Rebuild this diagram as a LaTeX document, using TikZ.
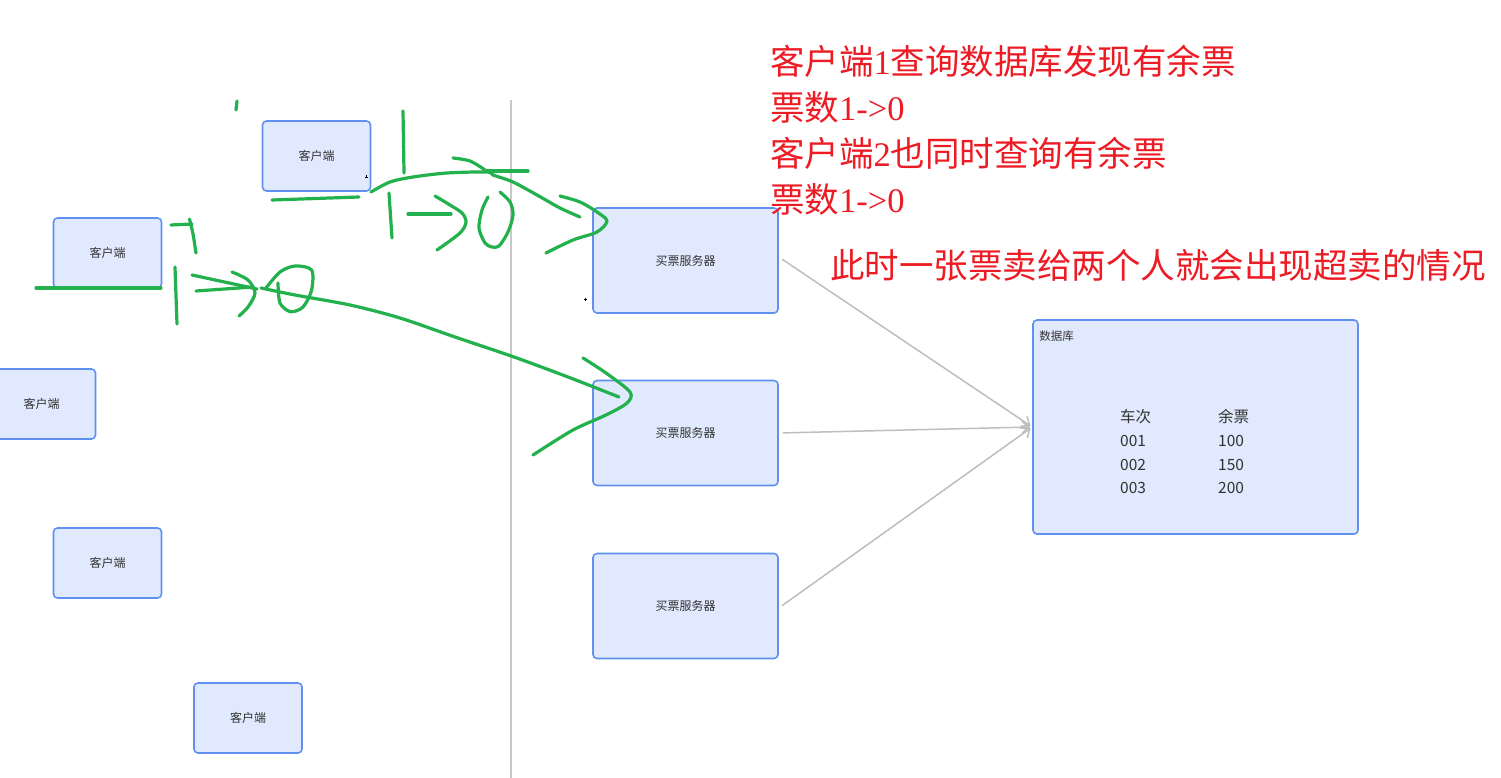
\documentclass[tikz,border=0pt]{standalone}
\usepackage{fontspec}
\setmainfont{Noto Sans CJK SC}
\newfontfamily\cjk{Noto Sans CJK SC}
\newfontfamily\latserif{Liberation Serif}
\usetikzlibrary{arrows.meta}
\definecolor{boxblue}{RGB}{96,145,240}
\definecolor{boxfill}{RGB}{224,233,253}
\definecolor{txtgray}{RGB}{51,51,51}
\definecolor{inkred}{RGB}{237,28,36}
\definecolor{inkgreen}{RGB}{34,177,76}
\definecolor{arrgray}{RGB}{190,190,190}
\definecolor{divgray}{RGB}{200,200,200}
\newcommand\lt[1]{{\latserif #1}}
\begin{document}
\begin{tikzpicture}[x=1pt,y=-1pt,
  box/.style={draw=boxblue, fill=boxfill, line width=1.6pt, rounded corners=4pt,
    inner sep=0pt, font=\cjk\fontsize{12}{14}\selectfont, text=txtgray},
  client/.style={box, minimum width=108pt, minimum height=70pt},
  server/.style={box, minimum width=185pt, minimum height=105pt},
  dbtxt/.style={anchor=west, inner sep=0pt, font=\cjk\fontsize{15.5}{18}\selectfont, text=txtgray},
  redtxt/.style={anchor=base west, inner sep=0pt, text=inkred, font=\cjk\fontsize{34.5}{40}\selectfont},
  ink/.style={draw=inkgreen, line width=3.2pt, line cap=round, line join=round},
  garrow/.style={draw=arrgray, line width=1.5pt, -{Straight Barb[length=7pt,width=12pt]}},
  speck/.style={draw=black, line width=0.6pt}]
\useasboundingbox (0,0) rectangle (1501,778);
\clip (0,0) rectangle (1501,778);
\fill[white] (0,0) rectangle (1501,778);

% divider
\coordinate (vtop) at (511,100);
\coordinate (vbot) at (511,778);
\draw[divgray, line width=2pt] (vtop) -- (vbot);

% clients
\node[client] (c1) at (316.5,156) {客户端};
\node[client] (c2) at (107.5,253) {客户端};
\node[client] (c3) at (41.5,404) {客户端};
\node[client] (c4) at (107.5,563) {客户端};
\node[client] (c5) at (248,718) {客户端};

% servers
\node[server] (s1) at (685.5,260.5) {买票服务器};
\node[server] (s2) at (685.5,433) {买票服务器};
\node[server] (s3) at (685.5,606) {买票服务器};

% database
\node[box, minimum width=325pt, minimum height=214pt] (db) at (1195.5,427) {};
\node[anchor=north west, inner sep=0pt, font=\cjk\fontsize{11.5}{13}\selectfont, text=txtgray] (dblabel) at ([xshift=7pt,yshift=-11pt]db.north west) {数据库};
\node[dbtxt] (h1) at (1120,417) {车次};
\node[dbtxt] (h2) at (1218,417) {余票};
\node[dbtxt] (a1) at (1120,441) {001};
\node[dbtxt] (b1) at (1218,441) {100};
\node[dbtxt] (a2) at (1120,464.5) {002};
\node[dbtxt] (b2) at (1218,464.5) {150};
\node[dbtxt] (a3) at (1120,488) {003};
\node[dbtxt] (b3) at (1218,488) {200};

% gray connectors
\draw[garrow, shorten <=4pt, shorten >=2pt] ([yshift=3.5pt]s1.east) -- (db.west);
\draw[garrow, shorten <=4pt, shorten >=2pt] (s2.east) -- (db.west);
\draw[garrow, shorten <=4pt, shorten >=2pt] ([yshift=-2pt]s3.east) -- (db.west);

% red notes
\node[redtxt] (r1) at (770,75) {客户端\lt{1}查询数据库发现有余票};
\node[redtxt] (r2) at (770,121) {票数\lt{1->0}};
\node[redtxt] (r3) at (770,166.5) {客户端\lt{2}也同时查询有余票};
\node[redtxt] (r4) at (770,212) {票数\lt{1->0}};
\node[redtxt] (r5) at (830,278) {此时一张票卖给两个人就会出现超卖的情况};

% green freehand marks
\draw[ink] (237,101) -- (236,110);
\draw[ink] (403,111) -- (404,173);
\draw[ink] (272,200) -- (359,197);
\draw[ink] plot[smooth] coordinates {(371,192) (390,182) (413,177) (447,173) (487,172) (493,175) (513,182) (537,195) (560,208) (580,217)};
\draw[ink] (485,171) -- (528,171);
\draw[ink] plot[smooth] coordinates {(453,158) (470,161) (485,170)};
\draw[ink] plot[smooth] coordinates {(560,196) (580,202) (597,212) (607,221) (597,232) (573,240) (546,253)};
\draw[ink] (389,193) -- (392,238);
\draw[ink] (408,214) -- (451,214);
\draw[ink] plot[smooth] coordinates {(435,196) (450,205) (462,213) (466,222) (460,233) (437,250)};
\draw[ink] plot[smooth] coordinates {(500,192) (510,202) (513,215) (508,232) (499,246) (492,247) (485,243) (479,228) (482,210) (488,197)};

\draw[ink] (171,225) -- (192,224);
\draw[ink] plot[smooth] coordinates {(189.5,219) (193,234) (196,253)};
\draw[ink] (36,288) -- (161,288);
\draw[ink] (175,267) -- (177,324);
\draw[ink] (192,275) -- (257,289);
\draw[ink] (196,291) -- (253,287);
\draw[ink] plot[smooth] coordinates {(232,272) (248,280) (255,293) (248,307) (239,316)};
\draw[ink] plot[smooth] coordinates {(278,283) (280,303) (290.5,311.7) (303,307) (311.6,290) (311.6,270) (295,266) (280,272) (266,288)};
\draw[ink] plot[smooth] coordinates {(261,288) (295,295) (350,305) (400,318) (455,337) (514,357) (568,377) (619,397)};
\draw[ink] plot[smooth] coordinates {(583,358) (606,373) (630,392) (627,403) (606,415) (573,430) (533,455)};

% tiny specks
\draw[speck] (364.5,177) -- (367.5,177) (366,175.5) -- (366,178.5);
\draw[speck] (583.5,299) -- (586.5,299) (585,297.5) -- (585,300.5);
\end{tikzpicture}
\end{document}
